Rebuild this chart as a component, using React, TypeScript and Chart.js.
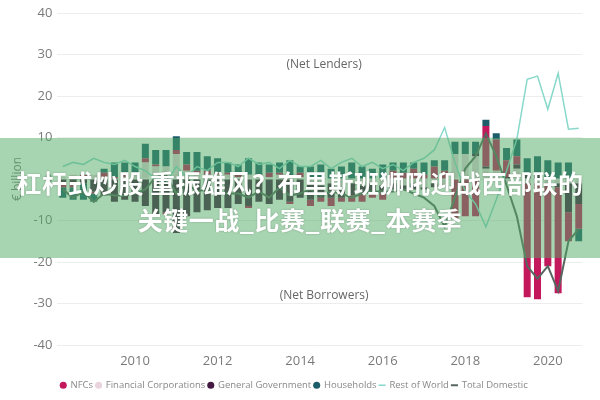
import { useEffect, useRef } from "react";
import { Chart, registerables } from "chart.js";

Chart.register(...registerables);

// quarters 2008Q1 .. 2020Q3, placed at quarter end on a year axis
const quarters: string[] = [];
for (let y = 2008; y <= 2020; y++) {
  for (let q = 1; q <= 4; q++) {
    if (y === 2020 && q === 4) break;
    quarters.push(`${y}Q${q}`);
  }
}
const quarterPos = (label: string) => Number(label.slice(0, 4)) + Number(label.slice(5)) / 4;

const yearTicks = [2010, 2012, 2014, 2016, 2018, 2020];

// € billion
const financialCorps = [
  0.5, 1, 0.5, 1, 0.5, 0, 0.5, 1,
  4, 3, 3, 6, 2, 1.5, 1, 1,
  1, 0.5, 1, 0.5, 0.5, 1, 0.5, 0.5,
  -1, -1.5, -1, -2, -1, -1.5, -1, -1.5,
  -1, -1.5, -1, -2, -1, -1.5, 6, 6,
  5.5, 2.5, 2, -1, 2.5,
  -1, -1, -1, -1, -1, -1,
];
const generalGov = [
  -1, -1.5, -1, -3, -4, -5.5, -5, -5.5,
  -6.5, -9, -8, -13, -9, -8, -7.5, -7,
  -7, -6, -6.5, -5.5, -6, -5, -5.5, -4.5,
  -4, -3, -3.5, -2.5, -3, -2, -2.5, -2,
  -1.5, -1, -1.5, -0.5, -1, -0.5, 0, 0,
  0.5, 0.5, 0, 0.5, 1,
  1, 1, 0.5, -1, -7, -5,
];
const nfcs = [
  -1, -0.5, 0.5, -0.5, 1, 0.5, 1, 0.5,
  1, 0.5, -0.5, 1, 1.5, 0.5, 1, 0.5,
  0.5, 1, -0.5, 0.5, 1, 0.5, -0.5, 1,
  -1.5, -1, -2, -1, -1.5, -2, -1, -1.5,
  2, 1.5, 2.5, 1, 3, 2, -9.5, -9,
  -9, 9.8, 7.5, 4, 2,
  -27.5, -28, -20, -25.5, -7, -6,
];
const households = [
  -2.5, -3, -4, -2, 1, 3.5, 2.5, 2.5,
  3.5, 3.5, 4, 3.3, 3, 4.5, 3.5, 3.5,
  2.5, 2, 4, 3, 2, 2.5, 4, 1.5,
  3, 3.5, 2.5, 3, 4, 3, 2.5, 3.5,
  2, 2.5, 1.5, 3, 1.5, 2.5, 3, 3,
  3, 1.5, 1.5, 3, 4,
  4, 4.5, 4, 4, 4, -3,
];
const restOfWorld = [
  3, 4, 3.5, 5, 4, 3.5, 4.5, 3,
  2, 0, -1, 3, 0.5, 3, 2, 4,
  4, 3, 5, 3.5, 4, 2.5, 4.5, 3,
  3, 4.5, 2.5, 4, 5, 3, 4, 2.5,
  3.5, 2, 4, 5, 7, 12.4, 4, -3,
  -6, -11.5, -5, 2, 9.6,
  24, 24.8, 16.8, 25.5, 12, 12.2,
];
const totalDomestic = [
  -2.5, -4.5, -3, -5.5, -3.5, -4, -4, -3.5,
  -2.5, 0.5, 1, -3.5, -1, -3, -2.5, -3.5,
  -3.5, -3.5, -4.5, -3, -4.5, -2, -4, -3.5,
  -2.5, -4, -3, -3.5, -4.5, -3.5, -3, -3,
  -3, -2.5, -3.5, -4.5, -6.5, -11.5, -4.5, 2.5,
  5.5, 11, 5.5, -1.5, -9,
  -21, -24, -21, -27, -15, -12,
];

const legendOrder = ["NFCs", "Financial Corporations", "General Government", "Households", "Rest of World", "Total Domestic"];

const FONT = "'Open Sans', 'DejaVu Sans', sans-serif";
const GREY = "#7a7a7a";

const pts = (vals: number[]) => vals.map((v, i) => ({ x: quarterPos(quarters[i]), y: v }));

const notes = {
  id: "notes",
  afterDatasetsDraw(chart: Chart) {
    const { ctx, scales } = chart;
    ctx.save();
    ctx.fillStyle = "#666";
    ctx.font = `12px ${FONT}`;
    ctx.textAlign = "center";
    ctx.textBaseline = "middle";
    ctx.fillText("(Net Lenders)", scales.x.getPixelForValue(2014.58), scales.y.getPixelForValue(27.5));
    ctx.fillText("(Net Borrowers)", scales.x.getPixelForValue(2014.58), scales.y.getPixelForValue(-28));
    ctx.restore();
  },
};

export default function App() {
  const chartRef = useRef<HTMLCanvasElement>(null);
  const chartInstance = useRef<Chart | null>(null);

  useEffect(() => {
    if (!chartRef.current) return;
    if (chartInstance.current) chartInstance.current.destroy();

    const bar = (label: string, data: number[], color: string) => ({
      type: "bar" as const,
      label,
      data: pts(data),
      backgroundColor: color,
      borderWidth: 0,
      stack: "bars",
      order: 1,
      pointStyle: "circle",
      categoryPercentage: 0.8,
      barPercentage: 0.85,
    });

    chartInstance.current = new Chart(chartRef.current, {
      type: "bar",
      data: {
        datasets: [
          {
            type: "line",
            label: "Rest of World",
            data: pts(restOfWorld),
            borderColor: "#88d8cb",
            backgroundColor: "#88d8cb",
            borderWidth: 1.5,
            pointRadius: 0,
            stack: "row",
            order: 0,
            pointStyle: "line",
          },
          {
            type: "line",
            label: "Total Domestic",
            data: pts(totalDomestic),
            borderColor: "#56665f",
            backgroundColor: "#56665f",
            borderWidth: 2,
            pointRadius: 0,
            stack: "td",
            order: 0,
            pointStyle: "line",
          },
          bar("Financial Corporations", financialCorps, "#e9d3dc"),
          bar("General Government", generalGov, "#451a42"),
          bar("NFCs", nfcs, "#c4185c"),
          bar("Households", households, "#1d5e6a"),
        ] as any,
      },
      options: {
        animation: false,
        responsive: true,
        maintainAspectRatio: false,
        layout: { padding: { left: 6, right: 17.5, top: 13, bottom: 0 } },
        scales: {
          x: {
            type: "linear",
            min: 2008.12,
            max: 2020.84,
            offset: false,
            stacked: true,
            grid: { display: false, drawTicks: false },
            border: { display: false },
            afterBuildTicks: (scale: any) => {
              scale.ticks = yearTicks.map((v) => ({ value: v }));
            },
            afterFit: (scale: any) => {
              scale.height = 32.5;
            },
            ticks: {
              color: GREY,
              padding: 8,
              font: { family: FONT, size: 13 },
              maxRotation: 0,
              autoSkip: false,
              callback: (v: any) => String(v),
            },
          },
          y: {
            stacked: true,
            min: -40,
            max: 40,
            grid: { color: "#ededed", drawTicks: false },
            border: { display: false },
            ticks: { stepSize: 10, padding: 5, color: GREY, font: { family: FONT, size: 13 } },
            title: { display: true, text: "€ billion", color: GREY, font: { family: FONT, size: 12 } },
          },
        },
        plugins: {
          tooltip: { enabled: false },
          legend: {
            position: "bottom",
            labels: {
              usePointStyle: true,
              boxWidth: 5,
              boxHeight: 5,
              padding: 3,
              color: "#888",
              font: { family: FONT, size: 9.5 },
              sort: (a: any, b: any) => legendOrder.indexOf(a.text) - legendOrder.indexOf(b.text),
            },
          },
        },
      },
      plugins: [notes],
    });

    return () => {
      if (chartInstance.current) {
        chartInstance.current.destroy();
        chartInstance.current = null;
      }
    };
  }, []);

  return (
    <div style={{ position: "fixed", left: 0, top: 0, width: 600, height: 400, background: "#fff" }}>
      <canvas ref={chartRef}></canvas>
      <div
        style={{
          position: "absolute",
          left: 0,
          top: 138,
          width: 600,
          height: 120,
          background: "rgba(80, 170, 100, 0.5)",
          color: "#fff",
          fontFamily: "'Noto Sans CJK SC', sans-serif",
          fontWeight: 700,
          fontSize: 25,
          letterSpacing: 0.5,
          lineHeight: "37px",
          textAlign: "center",
          paddingTop: 26,
          boxSizing: "border-box",
          textShadow: "0 0 2px rgba(0,0,0,0.25)",
          whiteSpace: "nowrap",
        }}
      >
        <div>杠杆式炒股 重振雄风？布里斯班狮吼迎战西部联的</div>
        <div>关键一战_比赛_联赛_本赛季</div>
      </div>
    </div>
  );
}
